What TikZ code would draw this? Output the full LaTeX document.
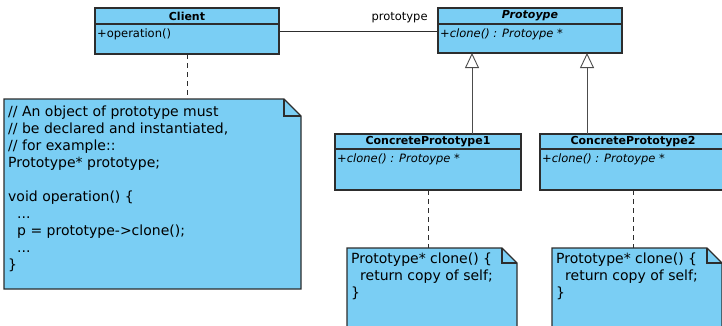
\documentclass[tikz,border=0pt]{standalone}
\usepackage{fontspec}
\setmainfont{DejaVu Sans}
\setsansfont{DejaVu Sans}
\usepackage{tikz}
\usetikzlibrary{arrows.meta,positioning,calc}
\definecolor{umlblue}{RGB}{122,206,244}
\definecolor{umledge}{RGB}{45,45,45}
\tikzset{every picture/.prefix style={execute at begin picture={\sffamily}}}

\begin{document}
\begin{tikzpicture}[x=1pt,y=-1pt,
  ctitle/.style={draw=umledge,fill=umlblue,line width=1.1pt,inner sep=0pt,outer sep=0pt,minimum height=16pt,font=\bfseries\fontsize{11}{13}\selectfont},
  cbody/.style={draw=umledge,fill=umlblue,line width=1.1pt,inner sep=0pt,outer sep=0pt},
  meth/.style={inner sep=2pt,anchor=north west,font=\fontsize{11.5}{13}\selectfont},
  notebox/.style={inner sep=0pt,outer sep=0pt},
  notetxt/.style={inner sep=0pt,anchor=north west,align=left,font=\fontsize{14}{17}\selectfont},
  lab/.style={inner sep=0pt,font=\fontsize{11.5}{13}\selectfont},
  assoc/.style={draw=umledge,line width=0.9pt},
  inherit/.style={draw=umledge!85,line width=0.9pt,-{Triangle[fill=white,length=15pt,width=14pt]}},
  anchorline/.style={draw=umledge,line width=0.9pt,dash pattern=on 5pt off 4pt}]
\useasboundingbox (0,0) rectangle (722,325);
\clip (0,0) rectangle (722,325);
% classes
\node[ctitle,minimum width=184pt] (clientT) at (187,16) {Client};
\node[cbody,minimum width=184pt,minimum height=30pt,below=0pt of clientT] (clientB) {};
\node[meth,yshift=-2.5pt] (clientM) at (clientB.north west) {+operation()};
\node[ctitle,minimum width=184pt] (protoT) at (530,16) {\itshape Protoype};
\node[cbody,minimum width=184pt,minimum height=29pt,below=0pt of protoT] (protoB) {};
\node[meth,yshift=-2.5pt] (protoM) at (protoB.north west) {\itshape +clone() : Protoype *};
\node[ctitle,minimum width=186pt,minimum height=15pt] (cp1T) at (428,141.5) {ConcretePrototype1};
\node[cbody,minimum width=186pt,minimum height=41pt,below=0pt of cp1T] (cp1B) {};
\node[meth,yshift=-2.5pt] (cp1M) at (cp1B.north west) {\itshape +clone() : Protoype *};
\node[ctitle,minimum width=186pt,minimum height=15pt] (cp2T) at (633,141.5) {ConcretePrototype2};
\node[cbody,minimum width=186pt,minimum height=41pt,below=0pt of cp2T] (cp2B) {};
\node[meth,yshift=-2.5pt] (cp2M) at (cp2B.north west) {\itshape +clone() : Protoype *};
% notes
\node[notebox,minimum width=297pt,minimum height=190pt] (notec) at (152.5,194) {};
\node[notebox,minimum width=170pt,minimum height=100pt] (note1) at (432,298) {};
\node[notebox,minimum width=170pt,minimum height=100pt] (note2) at (637,298) {};
\foreach \n/\f in {notec/17,note1/15,note2/15} {
  \filldraw[fill=umlblue,draw=umledge,line width=1.1pt] (\n.south west) -- (\n.north west) -- ([xshift=-\f pt]\n.north east) -- ([yshift=-\f pt]\n.north east) -- (\n.south east) -- cycle;
  \draw[umledge,line width=1.1pt] ([xshift=-\f pt]\n.north east) -- ([xshift=-\f pt,yshift=-\f pt]\n.north east) -- ([yshift=-\f pt]\n.north east);
}
\node[notetxt] (notecT) at ([xshift=4pt,yshift=-7pt]notec.north west) {// An object of prototype must\\// be declared and instantiated,\\// for example::\\Prototype* prototype;\\[17pt]void operation() \{\\\hspace*{9pt}...\\\hspace*{9pt}p = prototype->clone();\\\hspace*{9pt}...\\\}};
\node[notetxt] (note1T) at ([xshift=4pt,yshift=-5pt]note1.north west) {Prototype* clone() \{\\\hspace*{9pt}return copy of self;\\\}};
\node[notetxt] (note2T) at ([xshift=4pt,yshift=-5pt]note2.north west) {Prototype* clone() \{\\\hspace*{9pt}return copy of self;\\\}};
% connectors
\draw[assoc] ([yshift=-7pt]clientB.north east) -- ([yshift=-7pt]protoB.north west) node[lab,pos=1,anchor=south east,xshift=-10pt,yshift=8pt] (rolelab) {prototype};
\coordinate (g1) at ([xshift=44pt]cp1T.north); \coordinate (g2) at ([xshift=-46pt]cp2T.north);
\draw[inherit] (g1) -- (g1 |- protoB.south);
\draw[inherit] (g2) -- (g2 |- protoB.south);
\draw[anchorline] (clientB.south) -- (clientB.south |- notec.north);
\draw[anchorline] (cp1B.south) -- (cp1B.south |- note1.north);
\draw[anchorline] (cp2B.south) -- (cp2B.south |- note2.north);
\end{tikzpicture}
\end{document}
